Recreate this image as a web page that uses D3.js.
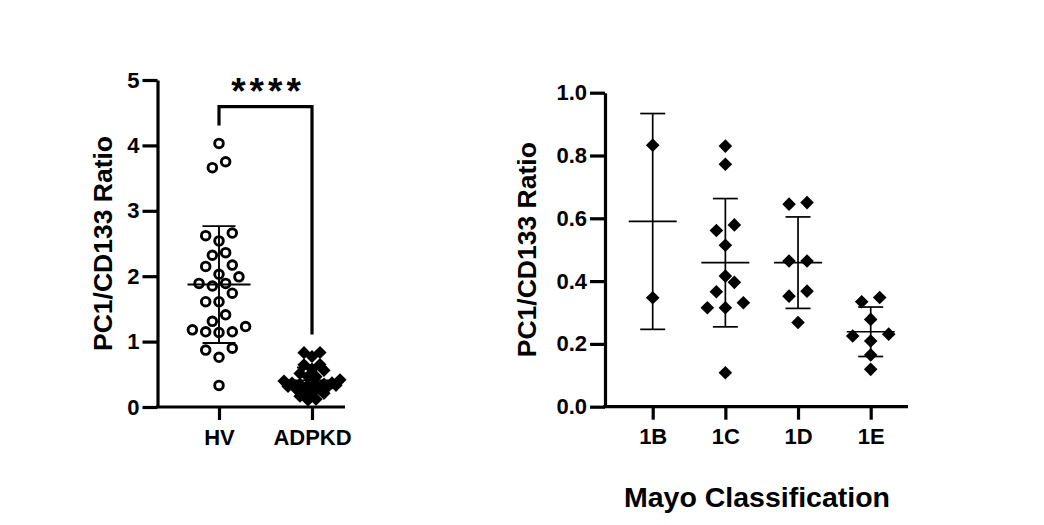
<!DOCTYPE html>
<html>
<head>
<meta charset="utf-8">
<script src="https://cdn.jsdelivr.net/npm/d3@7"></script>
<style>
  html, body { margin: 0; padding: 0; background: #fff; }
  svg { display: block; }
  text { font-family: Arial, "Liberation Sans", sans-serif; font-weight: bold; fill: #000; }
</style>
</head>
<body>
<svg id="chart" width="1044" height="525"></svg>
<script>
// ---------------- DATA ----------------
const groupsLeft = ["HV", "ADPKD"];
const hvValues = [4.03, 3.75, 3.66, 2.66, 2.62, 2.54, 2.36, 2.32, 2.17, 2.15, 1.99, 2.03, 1.89, 1.89, 1.85,
                  1.74, 1.61, 1.61, 1.41, 1.31, 1.23, 1.15, 1.15, 1.14, 1.18, 0.90, 0.87, 0.76, 0.33];
const mayoCategories = ["1B", "1C", "1D", "1E"];
const mayo1B = [0.833, 0.347];
const mayo1C = [0.830, 0.772, 0.579, 0.561, 0.514, 0.416, 0.396, 0.366, 0.331, 0.315, 0.315, 0.108];
const mayo1D = [0.650, 0.645, 0.464, 0.464, 0.368, 0.352, 0.268];
const mayo1E = [0.348, 0.334, 0.278, 0.231, 0.225, 0.209, 0.165, 0.119];
const adpkdValues = [].concat(mayo1B, mayo1C, mayo1D, mayo1E);
const leftTicks = [0, 1, 2, 3, 4, 5];
const rightTicks = [0, 0.2, 0.4, 0.6, 0.8, 1.0];
const yLabel = "PC1/CD133 Ratio";
const xTitleRight = "Mayo Classification";
const significance = "****";

// ---------------- HELPERS ----------------
const svg = d3.select("#chart");
const AXW = 3.2;
const TICK_FONT = "22px";

function diamondPath(r) { return `M0,${-r}L${r},0L0,${r}L${-r},0Z`; }

// row-based beeswarm: points whose pixel y are within rowH share a row, centred around cx
function swarm(values, y, cx, spacing, rowH) {
  const items = values.map(v => ({ v, py: y(v) })).sort((a, b) => b.py - a.py);
  const rows = []; let cur = null;
  items.forEach(it => {
    if (!cur || cur[0].py - it.py >= rowH) { cur = [it]; rows.push(cur); } else cur.push(it);
  });
  rows.forEach(r => {
    const n = r.length;
    const slots = d3.range(n).map(i => i - (n - 1) / 2)
      .sort((a, b) => Math.abs(a) - Math.abs(b) || a - b);
    r.forEach((it, i) => { it.px = cx + slots[i] * spacing; });
  });
  return items;
}

function errorBars(g, values, y, cx, halfMean, halfCap, sw) {
  const m = d3.mean(values), sd = d3.deviation(values);
  const add = (x1, y1, x2, y2) => g.append("line")
    .attr("x1", x1).attr("y1", y1).attr("x2", x2).attr("y2", y2)
    .attr("stroke", "#000").attr("stroke-width", sw);
  add(cx, y(m + sd), cx, y(Math.max(0, m - sd)));
  add(cx - halfMean, y(m), cx + halfMean, y(m));
  add(cx - halfCap, y(m + sd), cx + halfCap, y(m + sd));
  add(cx - halfCap, y(m - sd), cx + halfCap, y(m - sd));
}

function styleAxis(g) {
  g.attr("font-size", null).attr("font-family", null);
  g.selectAll("path.domain").attr("stroke", "#000").attr("stroke-width", AXW);
  g.selectAll(".tick line").attr("stroke", "#000").attr("stroke-width", AXW);
  g.selectAll(".tick text").attr("fill", "#000").style("font-weight", "bold").style("font-size", TICK_FONT);
}

// ---------------- LEFT PANEL ----------------
const yL = d3.scaleLinear().domain([0, 5]).range([407, 80]);
const xL = d3.scalePoint().domain(groupsLeft).range([219, 312]);
const left = svg.append("g");
const axisLeftX = 157.5, axisLeftEnd = 345;

// error bars
errorBars(left, hvValues, yL, xL("HV"), 31.5, 16.5, 1.9);
errorBars(left, adpkdValues, yL, xL("ADPKD"), 31, 15, 1.9);

// HV circles
const hvPts = swarm(hvValues, yL, xL("HV"), 13.3, 10);
left.selectAll("circle.hv").data(hvPts).join("circle")
  .attr("class", "hv").attr("cx", d => d.px).attr("cy", d => d.py).attr("r", 4.3)
  .attr("fill", "none").attr("stroke", "#000").attr("stroke-width", 2.9);

// ADPKD diamonds
const adPts = swarm(adpkdValues, yL, xL("ADPKD"), 8, 7);
left.selectAll("path.ad").data(adPts).join("path")
  .attr("class", "ad").attr("d", diamondPath(6.6))
  .attr("transform", d => `translate(${d.px},${d.py})`).attr("fill", "#000");

// y axis
const gyL = left.append("g").attr("transform", `translate(${axisLeftX},0)`)
  .call(d3.axisLeft(yL).tickValues(leftTicks).tickFormat(d3.format("d")).tickSize(15).tickSizeOuter(0).tickPadding(3));
styleAxis(gyL);

// x axis
left.append("line").attr("x1", axisLeftX - AXW / 2).attr("x2", axisLeftEnd).attr("y1", yL(0)).attr("y2", yL(0))
  .attr("stroke", "#000").attr("stroke-width", AXW);
const gxL = left.append("g").attr("transform", `translate(0,${yL(0)})`)
  .call(d3.axisBottom(xL).tickSize(13).tickSizeOuter(0).tickPadding(9));
gxL.select("path.domain").remove();
styleAxis(gxL);

// y label
left.append("text").attr("transform", `translate(111.5,${(yL(0) + yL(5)) / 2}) rotate(-90)`)
  .attr("text-anchor", "middle").style("font-size", "26.5px").text(yLabel);

// significance bracket
const bTop = 106.7;
const bL = yL(d3.max(hvValues)) - 18, bR = yL(d3.max(adpkdValues)) - 18;
left.append("path")
  .attr("d", `M${xL("HV")},${bL}V${bTop}H${xL("ADPKD")}V${bR}`)
  .attr("fill", "none").attr("stroke", "#000").attr("stroke-width", AXW);
left.append("text").attr("x", (xL("HV") + xL("ADPKD")) / 2 + 2.5).attr("y", 103.5)
  .attr("text-anchor", "middle").style("font-size", "37px").style("letter-spacing", "4px")
  .text(significance);

// ---------------- RIGHT PANEL ----------------
const yR = d3.scaleLinear().domain([0, 1]).range([406.7, 92.7]);
const xR = d3.scalePoint().domain(mayoCategories).range([652.7, 870.7]);
const right = svg.append("g");
const axisRightX = 605, axisRightEnd = 908;
const mayoSeries = [mayo1B, mayo1C, mayo1D, mayo1E];

mayoSeries.forEach((vals, i) => {
  const cx = xR(mayoCategories[i]);
  errorBars(right, vals, yR, cx, 24, 12.5, 1.7);
  const pts = swarm(vals, yR, cx, 18, 12);
  right.selectAll(null).data(pts).join("path")
    .attr("d", diamondPath(6.8))
    .attr("transform", d => `translate(${d.px},${d.py})`).attr("fill", "#000");
});

const gyR = right.append("g").attr("transform", `translate(${axisRightX},0)`)
  .call(d3.axisLeft(yR).tickValues(rightTicks).tickFormat(d3.format(".1f")).tickSize(15).tickSizeOuter(0).tickPadding(3));
styleAxis(gyR);

right.append("line").attr("x1", axisRightX - AXW / 2).attr("x2", axisRightEnd).attr("y1", yR(0)).attr("y2", yR(0))
  .attr("stroke", "#000").attr("stroke-width", AXW);
const gxR = right.append("g").attr("transform", `translate(0,${yR(0)})`)
  .call(d3.axisBottom(xR).tickSize(13).tickSizeOuter(0).tickPadding(9));
gxR.select("path.domain").remove();
styleAxis(gxR);

right.append("text").attr("transform", `translate(536,${(yR(0) + yR(1)) / 2}) rotate(-90)`)
  .attr("text-anchor", "middle").style("font-size", "26.5px").text(yLabel);

right.append("text").attr("x", 757).attr("y", 507).attr("text-anchor", "middle")
  .style("font-size", "28.5px").text(xTitleRight);
</script>
</body>
</html>
